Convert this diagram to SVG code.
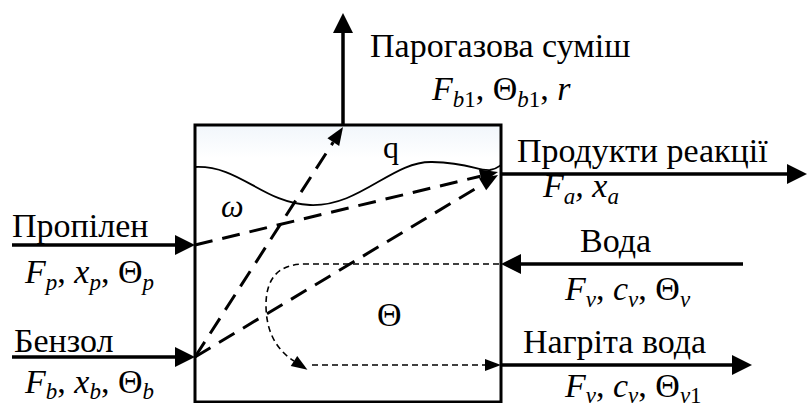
<svg xmlns="http://www.w3.org/2000/svg" width="807" height="403" viewBox="0 0 807 403">
<defs>
<linearGradient id="bg" x1="0" y1="0" x2="0" y2="1">
<stop offset="0" stop-color="#f1f6fb"/>
<stop offset="0.12" stop-color="#ffffff"/>
</linearGradient>
<marker id="ah" markerUnits="userSpaceOnUse" markerWidth="22" markerHeight="22" refX="0" refY="10" orient="auto" overflow="visible">
<path d="M0,0 L20,10 L0,20 z" fill="#000"/>
</marker>
<marker id="ahd" markerUnits="userSpaceOnUse" markerWidth="20" markerHeight="16" refX="0" refY="7" orient="auto" overflow="visible">
<path d="M0,0 L18,7 L0,14 z" fill="#000"/>
</marker>
<marker id="aht" markerUnits="userSpaceOnUse" markerWidth="18" markerHeight="14" refX="0" refY="6" orient="auto" overflow="visible">
<path d="M0,0 L16,6 L0,12 z" fill="#000"/>
</marker>
</defs>
<rect width="807" height="403" fill="#fff"/>
<g id="reactor">
<rect x="195" y="125" width="306" height="277" fill="url(#bg)" stroke="#000" stroke-width="3"/>
<path d="M195,167 C240,165 262,203 310,205 C360,207 392,161 432,162 C470,163 478,171 490,170 C497,169 499,166 501,165" fill="none" stroke="#000" stroke-width="1.8"/>
<text x="383" y="158" style="font-family:'Liberation Serif',serif;font-size:32px">q</text>
<text x="221" y="217" style="font-family:'Liberation Serif',serif;font-size:32px;font-style:italic">ω</text>
<text x="377" y="326" style="font-family:'Liberation Serif',serif;font-size:34px">Θ</text>
</g>
<g id="connectors" stroke="#000" fill="none">
<g stroke-width="3.5" marker-end="url(#ah)">
<line x1="343" y1="126" x2="343" y2="33"/>
<line x1="501" y1="174" x2="787" y2="174"/>
<line x1="743" y1="264" x2="521" y2="264"/>
<line x1="501" y1="365" x2="732" y2="365"/>
<line x1="12" y1="245" x2="175" y2="245"/>
<line x1="12" y1="357" x2="175" y2="357"/>
</g>
<g stroke-width="3" stroke-dasharray="18 10" marker-end="url(#ahd)">
<line x1="195" y1="357" x2="333.3" y2="142.1"/>
<line x1="195" y1="245" x2="480.5" y2="176.2"/>
<line x1="195" y1="357" x2="482.6" y2="184.3"/>
</g>
<g stroke-width="1.6" stroke-dasharray="6 4" marker-end="url(#aht)">
<path d="M499,264 L305,264 Q266,264 266,305 Q266,343 294,361"/>
<line x1="312" y1="365" x2="485" y2="365"/>
</g>
</g>
<g id="label-vapor">
<text x="370" y="57" style="font-family:'Liberation Serif',serif;font-size:34px">Парогазова суміш</text>
<text x="432" y="100" style="font-family:'Liberation Serif',serif;font-size:34px"><tspan style="font-style:italic">F</tspan><tspan style="font-size:23px;font-style:italic" dy="7">b</tspan><tspan style="font-size:23px">1</tspan><tspan dy="-7">, Θ</tspan><tspan style="font-size:23px;font-style:italic" dy="7">b</tspan><tspan style="font-size:23px">1</tspan><tspan dy="-7">, </tspan><tspan style="font-style:italic">r</tspan></text>
</g>
<g id="label-products">
<text x="517" y="162" style="font-family:'Liberation Serif',serif;font-size:34px">Продукти реакції</text>
<text x="543" y="197" style="font-family:'Liberation Serif',serif;font-size:34px;font-style:italic"><tspan>F</tspan><tspan style="font-size:23px" dy="7">a</tspan><tspan dy="-7">, x</tspan><tspan style="font-size:23px" dy="7">a</tspan></text>
</g>
<g id="label-water">
<text x="580" y="252" style="font-family:'Liberation Serif',serif;font-size:34px">Вода</text>
<text x="565" y="300" style="font-family:'Liberation Serif',serif;font-size:34px"><tspan style="font-style:italic">F</tspan><tspan style="font-size:23px;font-style:italic" dy="7">v</tspan><tspan dy="-7">, </tspan><tspan style="font-style:italic">c</tspan><tspan style="font-size:23px;font-style:italic" dy="7">v</tspan><tspan dy="-7">, Θ</tspan><tspan style="font-size:23px;font-style:italic" dy="7">v</tspan></text>
</g>
<g id="label-hot-water">
<text x="523" y="353" style="font-family:'Liberation Serif',serif;font-size:34px">Нагріта вода</text>
<text x="565" y="397" style="font-family:'Liberation Serif',serif;font-size:34px"><tspan style="font-style:italic">F</tspan><tspan style="font-size:23px;font-style:italic" dy="6">v</tspan><tspan dy="-6">, </tspan><tspan style="font-style:italic">c</tspan><tspan style="font-size:23px;font-style:italic" dy="6">v</tspan><tspan dy="-6">, Θ</tspan><tspan style="font-size:23px;font-style:italic" dy="6">v</tspan><tspan style="font-size:23px">1</tspan></text>
</g>
<g id="label-propylene">
<text x="12" y="237" style="font-family:'Liberation Serif',serif;font-size:34px">Пропілен</text>
<text x="25" y="283" style="font-family:'Liberation Serif',serif;font-size:34px"><tspan style="font-style:italic">F</tspan><tspan style="font-size:23px;font-style:italic" dy="7">p</tspan><tspan dy="-7">, </tspan><tspan style="font-style:italic">x</tspan><tspan style="font-size:23px;font-style:italic" dy="7">p</tspan><tspan dy="-7">, Θ</tspan><tspan style="font-size:23px;font-style:italic" dy="7">p</tspan></text>
</g>
<g id="label-benzene">
<text x="14" y="352" style="font-family:'Liberation Serif',serif;font-size:34px">Бензол</text>
<text x="25" y="393" style="font-family:'Liberation Serif',serif;font-size:34px"><tspan style="font-style:italic">F</tspan><tspan style="font-size:23px;font-style:italic" dy="6">b</tspan><tspan dy="-6">, </tspan><tspan style="font-style:italic">x</tspan><tspan style="font-size:23px;font-style:italic" dy="6">b</tspan><tspan dy="-6">, Θ</tspan><tspan style="font-size:23px;font-style:italic" dy="6">b</tspan></text>
</g>
</svg>
